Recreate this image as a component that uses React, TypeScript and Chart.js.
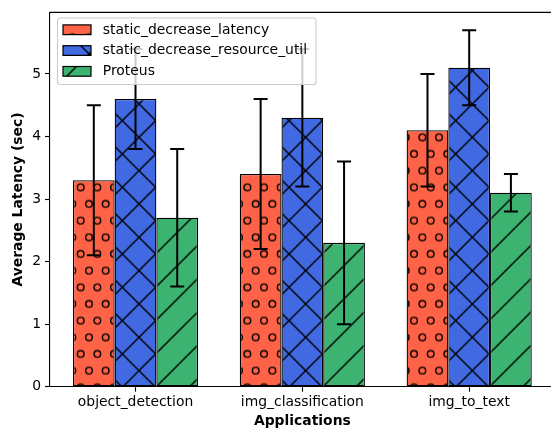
import React, { useEffect, useRef } from 'react';
import { Chart, registerables } from 'chart.js';

Chart.register(...registerables);

const categories = ['object_detection', 'img_classification', 'img_to_text'];
const seriesNames = ['static_decrease_latency', 'static_decrease_resource_util', 'Proteus'];
const latencyValues = [3.3, 3.4, 4.1];
const latencyErrors = [1.2, 1.2, 0.9];
const resourceValues = [4.6, 4.3, 5.1];
const resourceErrors = [0.8, 1.1, 0.6];
const proteusValues = [2.7, 2.3, 3.1];
const proteusErrors = [1.1, 1.3, 0.3];
const yTicks = [0, 1, 2, 3, 4, 5];

const seriesValues = [latencyValues, resourceValues, proteusValues];
const seriesErrors = [latencyErrors, resourceErrors, proteusErrors];
const seriesColors = ['#FF6347', '#4169E1', '#3CB371'];
const seriesHatches = ['o', 'x', '/'];

const FONT = '"DejaVu Sans", "Liberation Sans", sans-serif';
const FS = 13.9;

function makePattern(ctx: CanvasRenderingContext2D, color: string, kind: string) {
  const T = 100;
  const c = document.createElement('canvas');
  c.width = T;
  c.height = T;
  const g = c.getContext('2d')!;
  g.fillStyle = color;
  g.fillRect(0, 0, T, T);
  g.strokeStyle = '#000';
  g.lineWidth = 1.4;
  const step = T / 6;
  if (kind === 'o') {
    const r = 0.2 * step;
    for (let i = 0; i <= 6; i++) {
      const y = i * step;
      const xs: number[] = [];
      if (i % 2 === 0) for (let k = 0; k <= 6; k++) xs.push(k * step);
      else for (let k = 0; k < 6; k++) xs.push(step / 2 + k * step);
      xs.forEach((x) => {
        g.beginPath();
        g.arc(x, y, r, 0, Math.PI * 2);
        g.stroke();
      });
    }
  }
  const sp = T / 3;
  if (kind === '/' || kind === 'x') {
    g.beginPath();
    for (let k = -1; k <= 7; k++) {
      const c0 = k * sp;
      g.moveTo(c0 + 10, -10);
      g.lineTo(c0 - 110, 110);
    }
    g.stroke();
  }
  if (kind === 'x') {
    g.beginPath();
    for (let k = -4; k <= 4; k++) {
      const c0 = k * sp;
      g.moveTo(c0 - 10, -10);
      g.lineTo(c0 + 110, 110);
    }
    g.stroke();
  }
  const p = ctx.createPattern(c, 'repeat')!;
  p.setTransform(new DOMMatrix([1, 0, 0, 1, 39, 70.6]));
  return p;
}

export default function App() {
  const ref = useRef<HTMLCanvasElement>(null);

  useEffect(() => {
    const canvas = ref.current!;
    const ctx0 = canvas.getContext('2d')!;
    const patterns = seriesColors.map((c, i) => makePattern(ctx0, c, seriesHatches[i]));

    const errorBars = {
      id: 'errorBars',
      afterDatasetsDraw(chart: any) {
        const ctx = chart.ctx;
        const ys = chart.scales.y;
        ctx.save();
        ctx.strokeStyle = '#000';
        ctx.lineWidth = 2;
        ctx.lineCap = 'butt';
        seriesValues.forEach((vals, d) => {
          const meta = chart.getDatasetMeta(d);
          meta.data.forEach((el: any, i: number) => {
            const v = vals[i];
            const e = seriesErrors[d][i];
            const x = el.x;
            const yT = ys.getPixelForValue(v + e);
            const yB = ys.getPixelForValue(v - e);
            ctx.beginPath();
            ctx.moveTo(x, yT - 1);
            ctx.lineTo(x, yB + 1);
            ctx.moveTo(x - 7, yT);
            ctx.lineTo(x + 7, yT);
            ctx.moveTo(x - 7, yB);
            ctx.lineTo(x + 7, yB);
            ctx.stroke();
          });
        });
        ctx.restore();
      },
    };

    const frame = {
      id: 'frame',
      afterDraw(chart: any) {
        const ctx = chart.ctx;
        const a = chart.chartArea;
        ctx.save();
        ctx.strokeStyle = '#000';
        ctx.lineWidth = 1.1;
        ctx.beginPath();
        ctx.moveTo(a.left, a.top);
        ctx.lineTo(a.right, a.top);
        ctx.lineTo(a.right, a.bottom);
        ctx.stroke();
        ctx.restore();
      },
    };

    const legendBox = {
      id: 'legendBox',
      afterDraw(chart: any) {
        const ctx = chart.ctx;
        ctx.save();
        const lx = 57.5, ly = 18, lw = 258.5, lh = 66.5;
        ctx.beginPath();
        ctx.roundRect(lx, ly, lw, lh, 2.8);
        ctx.fillStyle = 'rgba(255,255,255,0.8)';
        ctx.fill();
        ctx.strokeStyle = '#cccccc';
        ctx.lineWidth = 1.1;
        ctx.stroke();
        seriesNames.forEach((name, d) => {
          const cy = 29.8 + d * 20.8;
          ctx.fillStyle = patterns[d];
          ctx.fillRect(63, cy - 4.9, 28, 9.7);
          ctx.strokeStyle = '#000';
          ctx.lineWidth = 1.2;
          ctx.strokeRect(63, cy - 4.9, 28, 9.7);
          ctx.fillStyle = '#000';
          ctx.font = `${FS}px ${FONT}`;
          ctx.textBaseline = 'alphabetic';
          ctx.textAlign = 'left';
          ctx.fillText(name, 102.8, cy + 3.8);
        });
        ctx.restore();
      },
    };

    const chart = new Chart(canvas, {
      type: 'bar',
      data: {
        datasets: seriesNames.map((name, d) => ({
          label: name,
          data: seriesValues[d].map((v, i) => ({ x: i, y: v })),
          backgroundColor: patterns[d],
          borderColor: '#000',
          borderWidth: 1.3,
          borderSkipped: false,
          categoryPercentage: 0.75,
          barPercentage: 1,
        })),
      },
      options: {
        responsive: false,
        animation: false,
        devicePixelRatio: 1,
        layout: { padding: { top: 11, right: 1.3, left: 0, bottom: 0 } },
        plugins: { legend: { display: false }, tooltip: { enabled: false } },
        scales: {
          x: {
            type: 'linear',
            min: -0.5125,
            max: 2.5125,
            offset: false,
            bounds: 'data',
            afterBuildTicks: (s: any) => {
              s.ticks = categories.map((_, i) => ({ value: i }));
            },
            afterFit: (s: any) => {
              s.height = 42.3;
            },
            ticks: {
              autoSkip: false,
              maxRotation: 0,
              padding: 2.5,
              color: '#000',
              font: { family: FONT, size: FS, lineHeight: 1.2 },
              callback: (v: any) => categories[Math.round(Number(v))] ?? '',
            },
            grid: {
              display: true,
              offset: false,
              drawOnChartArea: false,
              drawTicks: true,
              tickLength: 5,
              tickColor: '#000',
              tickWidth: 1.1,
            },
            border: { display: true, color: '#000', width: 1.1 },
            title: {
              display: true,
              text: 'Applications',
              color: '#000',
              font: { family: FONT, size: FS, weight: 'bold', lineHeight: 1.2 },
              padding: { top: 0, bottom: -1 },
            },
          },
          y: {
            type: 'linear',
            min: 0,
            max: 5.985,
            bounds: 'data',
            afterBuildTicks: (s: any) => {
              s.ticks = yTicks.map((v) => ({ value: v }));
            },
            afterFit: (s: any) => {
              s.width = 50;
            },
            ticks: {
              padding: 4,
              color: '#000',
              font: { family: FONT, size: FS, lineHeight: 1.2 },
              callback: (v: any) => String(v),
            },
            grid: {
              display: true,
              offset: false,
              drawOnChartArea: false,
              drawTicks: true,
              tickLength: 5,
              tickColor: '#000',
              tickWidth: 1.1,
            },
            border: { display: true, color: '#000', width: 1.1 },
            title: {
              display: true,
              text: 'Average Latency (sec)',
              color: '#000',
              font: { family: FONT, size: FS, weight: 'bold', lineHeight: 1.2 },
              padding: { top: 10.2, bottom: 0 },
            },
          },
        },
      } as any,
      plugins: [errorBars, frame, legendBox],
    });
    return () => chart.destroy();
  }, []);

  return (
    <div
      style={{
        position: 'fixed',
        left: 0,
        top: 0,
        width: 551,
        height: 429,
        overflow: 'hidden',
        background: '#fff',
      }}
    >
      <canvas ref={ref} width={556} height={429} style={{ display: 'block', width: 556, height: 429 }} />
    </div>
  );
}
